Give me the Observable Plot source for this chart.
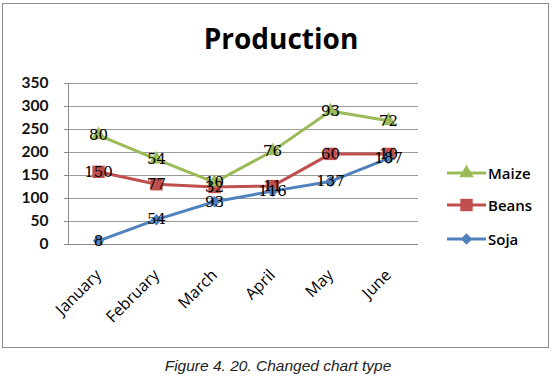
<!DOCTYPE html>
<html><head><meta charset="utf-8">
<script src="https://cdn.jsdelivr.net/npm/d3@7"></script>
<script src="https://cdn.jsdelivr.net/npm/@observablehq/plot@0.6"></script>
<style>
body{margin:0;background:#fff;}
#wrap{position:relative;width:556px;height:378px;overflow:hidden;background:#fff;}
#box{position:absolute;left:2px;top:3px;width:545px;height:343px;border:1px solid #8c8c8c;}
#chart{position:absolute;left:0;top:0;}
#title{position:absolute;left:0;width:562px;top:19px;text-align:center;font:700 28px "Open Sans",sans-serif;color:#000;}
#legend{position:absolute;left:445px;top:160px;font:600 15px "Open Sans",sans-serif;color:#000;}
.item{position:absolute;left:0;height:24px;display:flex;align-items:center;white-space:nowrap;}
.item svg{margin-right:1px;}
#caption{position:absolute;left:0;width:556px;top:357px;text-align:center;font:italic 15.5px "Liberation Sans",Arial,sans-serif;color:#222;}
</style></head>
<body>
<div id="wrap">
<div id="box"></div>
<div id="chart"></div>
<div id="title">Production</div>
<div id="legend"></div>
<div id="caption">Figure 4. 20. Changed chart type</div>
</div>
<script>
const months = ["January","February","March","April","May","June"];
const seriesNames = ["Soja","Beans","Maize"];
const soja  = [8, 54, 93, 116, 137, 187];
const beans = [150, 77, 32, 11, 60, 10];
const maize = [80, 54, 10, 76, 93, 72];
const yTicks = [0, 50, 100, 150, 200, 250, 300, 350];
const colors = ["#4F81BD", "#C0504D", "#9BBB59"];
const symbols = ["diamond2", "square", "triangle"];
const markerR = {Soja: 5.2, Beans: 7, Maize: 5.4};

const valuesBySeries = [soja, beans, maize];
const table = [];
seriesNames.forEach((s, i) => months.forEach((m, j) => table.push({series: s, month: m, value: valuesBySeries[i][j]})));

const stackOpts = {x: "month", y: "value", z: "series"};
const plot = Plot.plot({
  width: 556, height: 378,
  marginLeft: 68, marginRight: 138, marginTop: 83, marginBottom: 134,
  style: {background: "transparent", overflow: "visible"},
  x: {type: "point", domain: months, padding: 0.5, label: null},
  y: {domain: [0, 350], label: null},
  r: {type: "identity"},
  color: {domain: seriesNames, range: colors},
  symbol: {domain: seriesNames, range: symbols},
  marks: [
    Plot.gridY(yTicks, {stroke: "#9a9a9a", strokeOpacity: 1, strokeWidth: 1}),
    Plot.frame({anchor: "left", stroke: "#8a8a8a"}),
    Plot.ruleY([0], {stroke: "#8a8a8a"}),
    Plot.axisY(yTicks, {tickSize: 4, stroke: "#8a8a8a", tickPadding: 16, fontSize: 15.5, fontWeight: 700, fontFamily: "Lato", fill: "#111", label: null}),
    Plot.axisX({tickSize: 0, tickPadding: 28, tickRotate: -45, fontSize: 16, fontFamily: "Open Sans", fill: "#000", label: null}),
    Plot.lineY(table, Plot.stackY2({...stackOpts, stroke: "series", strokeWidth: 3})),
    Plot.dot(table, Plot.stackY2({...stackOpts, fill: "series", symbol: "series", r: d => markerR[d.series], stroke: "none"})),
    Plot.text(table, Plot.stackY2({...stackOpts, text: d => String(d.value), fontSize: 15, fontFamily: "DejaVu Serif", fill: "#000"}))
  ]
});
document.getElementById("chart").appendChild(plot);

// legend
const legend = document.getElementById("legend");
const legendOrder = [2, 1, 0];
const legendTops = [1, 33, 67];
const symMap = {diamond2: d3.symbolDiamond2, square: d3.symbolSquare, triangle: d3.symbolTriangle};
legendOrder.forEach((i, k) => {
  const div = document.createElement("div");
  div.className = "item";
  div.style.top = legendTops[k] + "px";
  const r = markerR[seriesNames[i]];
  const sym = d3.symbol(symMap[symbols[i]], r * r * Math.PI)();
  div.innerHTML = `<svg width="42" height="16"><line x1="2" x2="41" y1="8" y2="8" stroke="${colors[i]}" stroke-width="3"/><path transform="translate(21.5,8)" d="${sym}" fill="${colors[i]}"/></svg><span>${seriesNames[i]}</span>`;
  legend.appendChild(div);
});
</script>
</body></html>
